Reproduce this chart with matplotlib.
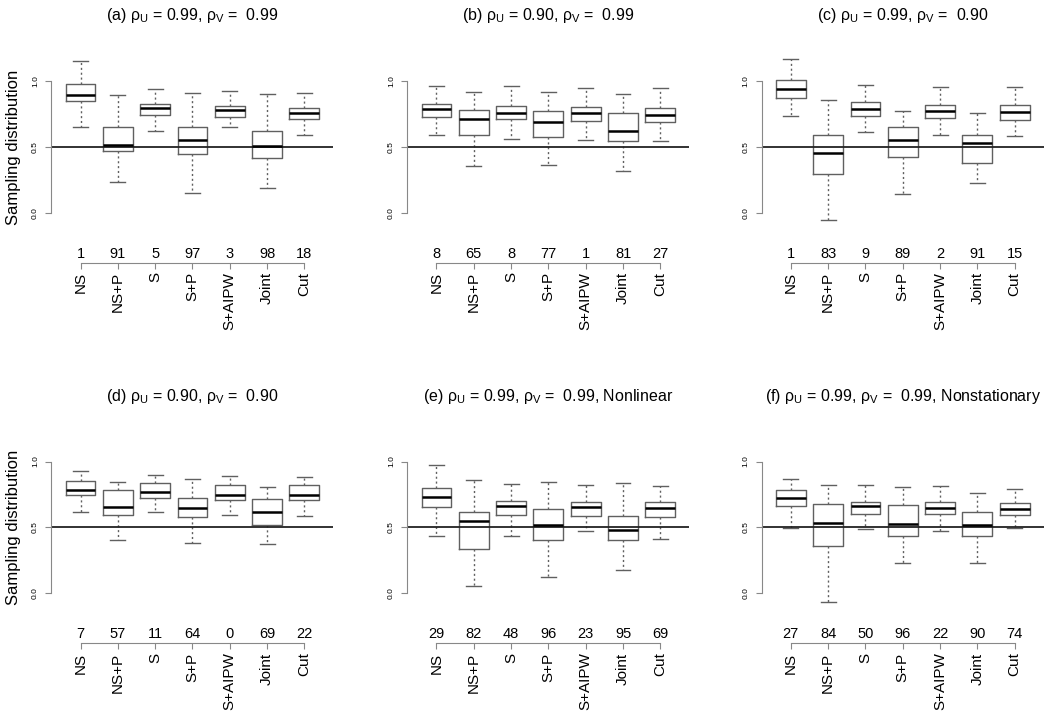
import matplotlib
matplotlib.use('Agg')
import matplotlib.pyplot as plt

plt.rcParams['font.family'] = 'Liberation Sans'
plt.rcParams['mathtext.fontset'] = 'custom'
plt.rcParams['mathtext.rm'] = 'Liberation Sans'
plt.rcParams['mathtext.it'] = 'Liberation Sans:italic'

methods = ['NS', 'NS+P', 'S', 'S+P', 'S+AIPW', 'Joint', 'Cut']
titles = ['(a) ρ$_\\mathrm{U}$ = 0.99, ρ$_\\mathrm{V}$ =  0.99',
          '(b) ρ$_\\mathrm{U}$ = 0.90, ρ$_\\mathrm{V}$ =  0.99',
          '(c) ρ$_\\mathrm{U}$ = 0.99, ρ$_\\mathrm{V}$ =  0.90',
          '(d) ρ$_\\mathrm{U}$ = 0.90, ρ$_\\mathrm{V}$ =  0.90',
          '(e) ρ$_\\mathrm{U}$ = 0.99, ρ$_\\mathrm{V}$ =  0.99, Nonlinear',
          '(f) ρ$_\\mathrm{U}$ = 0.99, ρ$_\\mathrm{V}$ =  0.99, Nonstationary']

# numbers printed above the axis of every panel
counts = [[1, 91, 5, 97, 3, 98, 18],
          [8, 65, 8, 77, 1, 81, 27],
          [1, 83, 9, 89, 2, 91, 15],
          [7, 57, 11, 64, 0, 69, 22],
          [29, 82, 48, 96, 23, 95, 69],
          [27, 84, 50, 96, 22, 90, 74]]

# box statistics, one row per panel (a)..(f)
whis_lo = [[0.654, 0.234, 0.621, 0.153, 0.656, 0.191, 0.595],
           [0.588, 0.354, 0.565, 0.361, 0.550, 0.318, 0.545],
           [0.740, -0.056, 0.616, 0.142, 0.590, 0.229, 0.583],
           [0.613, 0.400, 0.615, 0.380, 0.592, 0.375, 0.585],
           [0.430, 0.051, 0.435, 0.119, 0.468, 0.177, 0.410],
           [0.494, -0.066, 0.486, 0.230, 0.468, 0.230, 0.494]]
q1 = [[0.847, 0.468, 0.743, 0.445, 0.730, 0.420, 0.710],
      [0.728, 0.590, 0.710, 0.575, 0.702, 0.545, 0.690],
      [0.873, 0.298, 0.735, 0.425, 0.720, 0.382, 0.707],
      [0.742, 0.590, 0.722, 0.580, 0.709, 0.514, 0.704],
      [0.651, 0.332, 0.595, 0.403, 0.587, 0.403, 0.580],
      [0.661, 0.359, 0.600, 0.430, 0.597, 0.430, 0.595]]
med = [[0.896, 0.517, 0.794, 0.555, 0.779, 0.509, 0.763],
       [0.786, 0.710, 0.763, 0.690, 0.756, 0.623, 0.743],
       [0.944, 0.458, 0.791, 0.550, 0.776, 0.534, 0.768],
       [0.787, 0.653, 0.765, 0.643, 0.747, 0.615, 0.744],
       [0.727, 0.544, 0.661, 0.516, 0.651, 0.476, 0.648],
       [0.724, 0.532, 0.658, 0.527, 0.648, 0.516, 0.638]]
q3 = [[0.977, 0.651, 0.830, 0.651, 0.812, 0.626, 0.799],
      [0.830, 0.779, 0.814, 0.771, 0.804, 0.756, 0.799],
      [1.008, 0.593, 0.845, 0.649, 0.822, 0.593, 0.819],
      [0.851, 0.782, 0.835, 0.724, 0.823, 0.714, 0.820],
      [0.800, 0.613, 0.701, 0.638, 0.691, 0.582, 0.691],
      [0.785, 0.676, 0.694, 0.668, 0.689, 0.618, 0.684]]
whis_hi = [[1.153, 0.896, 0.944, 0.913, 0.929, 0.906, 0.911],
           [0.964, 0.916, 0.967, 0.921, 0.952, 0.906, 0.949],
           [1.170, 0.860, 0.969, 0.774, 0.959, 0.761, 0.957],
           [0.927, 0.843, 0.896, 0.868, 0.886, 0.808, 0.884],
           [0.972, 0.858, 0.830, 0.843, 0.818, 0.833, 0.813],
           [0.866, 0.820, 0.820, 0.805, 0.815, 0.757, 0.792]]

fig = plt.figure(figsize=(10.5, 7.2), dpi=100)
lefts = [0.049, 0.388, 0.7255]
bottoms = [0.668, 0.140]
pos = list(range(1, 8))
boxcol = '#606060'
axcol = '#888888'

for k in range(6):
    ax = fig.add_axes([lefts[k % 3], bottoms[k // 3], 0.2686, 0.2555])
    stats = []
    for i in range(7):
        stats.append(dict(whislo=whis_lo[k][i], q1=q1[k][i], med=med[k][i],
                          q3=q3[k][i], whishi=whis_hi[k][i], label=methods[i]))
    ax.bxp(stats, positions=pos, widths=0.8, capwidths=0.4, showfliers=False,
           boxprops=dict(color=boxcol, lw=1.0),
           whiskerprops=dict(color=boxcol, lw=1.0, linestyle=(0, (1.5, 2))),
           capprops=dict(color=boxcol, lw=1.0),
           medianprops=dict(color='black', lw=1.8))
    ax.axhline(0.5, color='#222222', lw=1.3)
    ax.set_xlim(0.22, 7.78)
    ax.set_ylim(-0.2, 1.2)

    for s in ['top', 'right']:
        ax.spines[s].set_visible(False)
    ax.spines['left'].set_bounds(0, 1)
    ax.spines['left'].set_color(axcol)
    ax.spines['bottom'].set_position(('outward', 17))
    ax.spines['bottom'].set_bounds(1, 7)
    ax.spines['bottom'].set_color(axcol)

    ax.set_xticks(pos)
    ax.set_xticklabels(methods, rotation=90, fontsize=11)
    ax.tick_params(axis='x', color=axcol, length=4, pad=3)
    ax.set_yticks([0, 0.5, 1.0])
    ax.set_yticklabels(['0.0', '0.5', '1.0'], rotation=90, va='center', fontsize=6)
    ax.tick_params(axis='y', color=axcol, length=4, pad=5)

    for i in range(7):
        ax.annotate(str(counts[k][i]), xy=(pos[i], 0), xycoords=('data', 'axes fraction'),
                    xytext=(0, -15.5), textcoords='offset points',
                    ha='center', va='bottom', fontsize=10.5)

    if k % 3 == 0:
        ax.set_ylabel('Sampling distribution', fontsize=12, labelpad=8)
    ax.set_title(titles[k], fontsize=11.5, pad=25)

fig.savefig('out.png', dpi=100)
